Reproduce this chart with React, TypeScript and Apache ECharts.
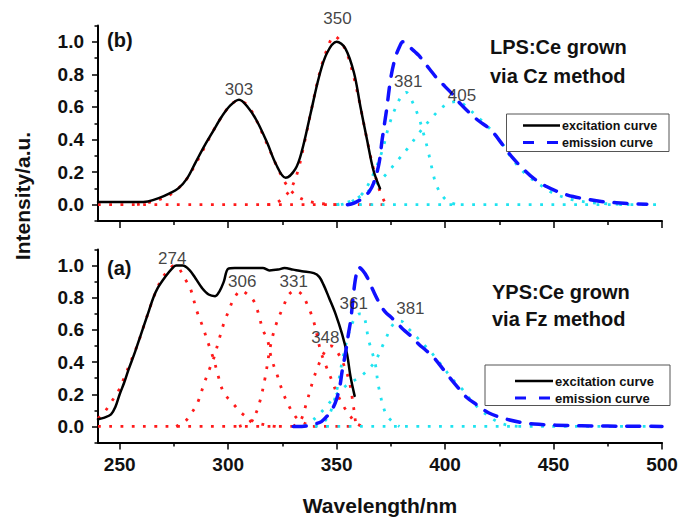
import React, { useEffect, useRef } from "react";
import * as echarts from "echarts";

// ---------- (b) LPS:Ce grown via Cz method ----------
const excitationB = [[240,0.016],[250,0.016],[258,0.016],[263,0.02],[268,0.04],[273,0.07],[277,0.1],[281,0.16],[285,0.26],[289,0.36],[293,0.45],[297,0.54],[301,0.61],[305,0.645],[309,0.6],[313,0.52],[318,0.38],[322,0.25],[326.5,0.165],[331,0.22],[334,0.33],[338,0.56],[342,0.79],[345.5,0.93],[350,1.0],[354,0.96],[358,0.81],[361,0.6],[364,0.4],[367,0.21],[370,0.1]];
const emissionB = [[355,0],[358,0.01],[362,0.04],[365,0.08],[367,0.13],[369.5,0.25],[371,0.4],[373,0.58],[375,0.78],[377,0.9],[379,0.97],[380.5,1.0],[383,0.975],[386,0.94],[388,0.915],[390,0.88],[393,0.83],[396,0.78],[400,0.725],[404,0.67],[407,0.62],[410,0.58],[415,0.52],[421,0.46],[427,0.36],[431,0.29],[436,0.22],[441,0.16],[447,0.11],[453,0.075],[459,0.05],[465,0.035],[472,0.02],[479,0.012],[486,0.006],[493,0.003]];
const fit303B = [[258,0.0],[262,0.01],[268,0.03],[273,0.06],[277,0.1],[281,0.16],[285,0.25],[289,0.35],[293,0.45],[297,0.54],[301,0.61],[304,0.635],[307,0.63],[311,0.57],[315,0.46],[319,0.34],[323,0.22],[327,0.12],[331,0.06],[335,0.03],[340,0.012],[346,0.003],[352,0]];
const fit350B = [[318,0],[322,0.01],[326,0.05],[329,0.1],[332,0.2],[335,0.37],[338,0.56],[342,0.8],[345.5,0.95],[349,1.035],[352,1.0],[355,0.92],[358,0.78],[361,0.6],[364,0.4],[367,0.22],[370,0.08],[372,0.02]];
const fitBaseRedB = [[240,0],[372,0]];
const fit381B = [[352,0],[357,0.02],[362,0.07],[367,0.19],[371,0.33],[374,0.48],[377,0.59],[380,0.67],[382,0.69],[385,0.63],[388,0.53],[390,0.44],[392,0.34],[394,0.22],[396,0.12],[399,0.05],[402,0.015],[406,0]];
const fit405B = [[350,0],[356,0.02],[362,0.06],[368,0.12],[373,0.19],[378,0.27],[383,0.35],[388,0.44],[393,0.52],[398,0.59],[402,0.625],[406,0.633],[410,0.6],[414,0.55],[419,0.49],[425,0.4],[431,0.28],[437,0.19],[444,0.12],[450,0.07],[459,0.03],[470,0.01],[485,0]];
const fitBaseCyanB = [[350,0],[500,0]];
const peakLabelsB = [[305,0.71,"303"],[350.4,1.14,"350"],[383,0.757,"381"],[407.8,0.668,"405"]];

// ---------- (a) YPS:Ce grown via Fz method ----------
const excitationA = [[240,0.045],[243,0.055],[246,0.075],[248,0.12],[250,0.2],[252,0.27],[254,0.35],[257,0.46],[259,0.54],[261,0.62],[263.5,0.72],[265.5,0.8],[267.5,0.86],[271,0.93],[274,0.98],[276,1.0],[279,1.0],[282,0.975],[285,0.92],[288,0.86],[291,0.82],[294,0.81],[296,0.84],[298,0.9],[300,0.98],[303,0.985],[307,0.985],[312,0.985],[316,0.985],[319,0.97],[323,0.975],[326,0.985],[330,0.975],[334,0.965],[339.5,0.953],[342,0.93],[344,0.88],[346.5,0.8],[349.5,0.7],[352.5,0.575],[354.8,0.45],[356.4,0.31],[358.3,0.19]];
const emissionA = [[330,0],[334,0],[337,0.005],[340,0.015],[343,0.03],[346,0.07],[348.5,0.12],[350,0.17],[351.5,0.25],[352.5,0.34],[354,0.45],[355.5,0.58],[356.5,0.66],[358,0.85],[359,0.94],[360.2,0.99],[362,0.97],[364,0.93],[367,0.84],[370,0.76],[372.5,0.71],[375,0.68],[378,0.64],[381,0.6],[384,0.565],[388,0.51],[391,0.475],[394.7,0.43],[400,0.34],[404.8,0.26],[410,0.18],[415.5,0.127],[420,0.085],[427,0.05],[435,0.025],[441,0.015],[451,0.008],[463,0.004],[475,0.002],[490,0.001],[500,0]];
const fit274A = [[240,0.05],[243,0.09],[246,0.15],[249,0.21],[252,0.3],[255,0.4],[258,0.5],[261,0.62],[264,0.74],[267,0.85],[270,0.93],[273,0.98],[275,1.0],[277,0.99],[279.5,0.93],[282.5,0.86],[285.5,0.72],[288,0.63],[291.5,0.49],[293.5,0.41],[295.5,0.31],[298,0.21],[303,0.13],[306,0.085],[312,0.03],[317,0.01],[322,0]];
const fit306A = [[276,0],[280,0.03],[283,0.08],[286,0.15],[289,0.27],[291.5,0.36],[293.5,0.43],[296,0.55],[298,0.64],[300,0.71],[302.5,0.79],[306,0.845],[309,0.82],[311.8,0.78],[314,0.7],[316,0.6],[318,0.545],[320,0.42],[322.6,0.32],[325,0.22],[327.2,0.15],[330,0.08],[333,0.035],[337,0.01],[341,0]];
const fit331A = [[305,0],[309,0.02],[312,0.06],[314.5,0.15],[317,0.3],[319.5,0.5],[322,0.63],[325.6,0.75],[328,0.82],[331,0.845],[334,0.82],[336.4,0.76],[339.5,0.65],[342.6,0.47],[345,0.38],[348,0.28],[350,0.21],[353,0.13],[356,0.07],[359,0.02],[362,0]];
const fit348A = [[330,0],[333.5,0.04],[336,0.14],[339,0.28],[341.6,0.38],[344.8,0.47],[347.5,0.5],[350,0.47],[353.7,0.37],[356,0.27],[357.5,0.15],[358.5,0.05],[359,0]];
const fitBaseRedA = [[240,0],[359,0]];
const fit361A = [[340,0],[345,0.04],[348,0.12],[350.5,0.25],[352.5,0.4],[355,0.55],[357.5,0.65],[360.5,0.7],[362.5,0.69],[364.8,0.535],[367.8,0.39],[369.3,0.25],[372.6,0.08],[375.7,0.03],[379,0]];
const fit381A = [[335,0],[340,0.05],[345,0.12],[350,0.2],[355,0.26],[361,0.31],[365,0.36],[368,0.41],[372,0.525],[376.3,0.64],[379.5,0.655],[383,0.61],[387,0.555],[390,0.51],[393,0.47],[396,0.42],[399,0.37],[402.4,0.31],[405,0.27],[408,0.23],[411.7,0.167],[416,0.106],[420,0.065],[424,0.03],[428,0.01],[434,0]];
const fitBaseCyanA = [[340,0],[500,0]];
const peakLabelsA = [[274.2,1.045,"274"],[306.5,0.902,"306"],[330.2,0.902,"331"],[344.8,0.555,"348"],[357.9,0.764,"361"],[384,0.733,"381"]];

// ---------- axes ----------
const xMajor = [250, 300, 350, 400, 450, 500];
const xMinor = [275, 325, 375, 425, 475];
const yMajor = [0, 0.2, 0.4, 0.6, 0.8, 1.0];
const yMinor = [-0.1, 0.1, 0.3, 0.5, 0.7, 0.9, 1.1];

const FONT = "Arial, 'Liberation Sans', Helvetica, sans-serif";
const RED = "#ff1a1a";
const CYAN = "#1fe3f0";
const BLUE = "#1010ff";
const BLACK = "#000000";

const dotted = [2.8, 8.5];
const dashed = [13, 11];

function lineSeries(data: number[][], color: string, type: any, width: number, g: number, z: number, cap = "round") {
  return {
    type: "line",
    xAxisIndex: g * 2,
    yAxisIndex: g * 2,
    data,
    symbol: "none",
    smooth: 0.35,
    silent: true,
    z,
    lineStyle: { color, width, type, cap, join: "round" },
  };
}

function dotSeries(data: number[][], color: string, g: number) {
  return lineSeries(data, color, dotted, 2.8, g, 2, "butt");
}

function labelSeries(data: any[], g: number) {
  return {
    type: "scatter",
    xAxisIndex: g * 2,
    yAxisIndex: g * 2,
    data,
    symbolSize: 0,
    clip: false,
    silent: true,
    z: 10,
    label: {
      show: true,
      position: "inside",
      formatter: (p: any) => p.value[2],
      color: "#111",
      fontFamily: FONT,
      fontSize: 17,
    },
  };
}

function xAxes(g: number, showLabels: boolean, name?: string) {
  const base = {
    type: "value",
    gridIndex: g,
    min: 240,
    max: 500,
    position: "bottom",
    splitLine: { show: false },
  };
  return [
    {
      ...base,
      name: name || "",
      nameLocation: "middle",
      nameGap: 63,
      nameTextStyle: { fontFamily: FONT, fontSize: 21, fontWeight: "bold", color: "#111", verticalAlign: "middle" },
      axisLine: { show: true, onZero: false, lineStyle: { color: BLACK, width: 2 } },
      axisTick: { show: true, inside: false, length: 7, customValues: xMajor, lineStyle: { color: BLACK, width: 1.5 } },
      axisLabel: {
        show: showLabels,
        customValues: xMajor,
        margin: 12,
        fontFamily: FONT,
        fontSize: 19,
        fontWeight: "bold",
        color: "#111",
      },
    },
    {
      ...base,
      axisLine: { show: false, onZero: false },
      axisTick: { show: true, inside: false, length: 4, customValues: xMinor, lineStyle: { color: BLACK, width: 1.5 } },
      axisLabel: { show: false },
    },
  ];
}

function yAxes(g: number) {
  const base = {
    type: "value",
    gridIndex: g,
    min: -0.1,
    max: 1.1,
    position: "left",
    splitLine: { show: false },
  };
  return [
    {
      ...base,
      axisLine: { show: true, onZero: false, lineStyle: { color: BLACK, width: 2 } },
      axisTick: { show: true, inside: false, length: 6, customValues: yMajor, lineStyle: { color: BLACK, width: 1.5 } },
      axisLabel: {
        show: true,
        customValues: yMajor,
        formatter: (v: number) => v.toFixed(1),
        margin: 14,
        fontFamily: FONT,
        fontSize: 19,
        fontWeight: "bold",
        color: "#111",
      },
    },
    {
      ...base,
      axisLine: { show: false, onZero: false },
      axisTick: { show: true, inside: false, length: 3.5, customValues: yMinor, lineStyle: { color: BLACK, width: 1.5 } },
      axisLabel: { show: false },
    },
  ];
}

function legendGraphic(box: { x: number; y: number; w: number; h: number }, lx1: number, lx2: number, y1: number, y2: number, fs: number) {
  return [
    { type: "rect", shape: { x: box.x, y: box.y, width: box.w, height: box.h }, style: { fill: "#fff", stroke: "#555", lineWidth: 1 }, z: 20 },
    { type: "line", shape: { x1: lx1, y1: y1, x2: lx2, y2: y1 }, style: { stroke: BLACK, lineWidth: 2.5 }, z: 21 },
    { type: "text", x: lx2 + 2, y: y1, style: { text: "excitation curve", fill: "#111", font: `bold ${fs}px ${FONT}`, align: "left", verticalAlign: "middle" }, z: 21 },
    { type: "line", shape: { x1: lx1, y1: y2, x2: lx2, y2: y2 }, style: { stroke: BLUE, lineWidth: 3, lineDash: [11, 13] }, z: 21 },
    { type: "text", x: lx2 + 2, y: y2, style: { text: "emission curve", fill: "#111", font: `bold ${fs}px ${FONT}`, align: "left", verticalAlign: "middle" }, z: 21 },
  ];
}

function annotation(text: string, x: number, y: number, size: number) {
  return { type: "text", x, y, style: { text, fill: "#111", font: `bold ${size}px ${FONT}`, align: "left", verticalAlign: "middle" }, z: 15 };
}

export default function App() {
  const ref = useRef<HTMLDivElement>(null);
  useEffect(() => {
    if (!ref.current) return;
    const chart = echarts.init(ref.current, undefined, { renderer: "svg" });
    const option: any = {
      animation: false,
      backgroundColor: "#ffffff",
      grid: [
        { left: 98, top: 25.5, width: 564, height: 195.5 },
        { left: 98, top: 249.5, width: 564, height: 196 },
      ],
      xAxis: [...xAxes(0, false), ...xAxes(1, true, "Wavelength/nm")],
      yAxis: [...yAxes(0), ...yAxes(1)],
      series: [
        dotSeries(fitBaseRedB, RED, 0),
        dotSeries(fit303B, RED, 0),
        dotSeries(fit350B, RED, 0),
        dotSeries(fitBaseCyanB, CYAN, 0),
        dotSeries(fit381B, CYAN, 0),
        dotSeries(fit405B, CYAN, 0),
        lineSeries(excitationB, BLACK, "solid", 2.5, 0, 4),
        lineSeries(emissionB, BLUE, dashed, 3.5, 0, 5),
        labelSeries(peakLabelsB, 0),

        dotSeries(fitBaseRedA, RED, 1),
        dotSeries(fit274A, RED, 1),
        dotSeries(fit306A, RED, 1),
        dotSeries(fit331A, RED, 1),
        dotSeries(fit348A, RED, 1),
        dotSeries(fitBaseCyanA, CYAN, 1),
        dotSeries(fit361A, CYAN, 1),
        dotSeries(fit381A, CYAN, 1),
        lineSeries(excitationA, BLACK, "solid", 2.5, 1, 4),
        lineSeries(emissionA, BLUE, dashed, 3.5, 1, 5),
        labelSeries(peakLabelsA, 1),
      ],
      graphic: [
        annotation("(b)", 107, 40, 20),
        annotation("LPS:Ce grown", 490, 47, 20),
        annotation("via Cz method", 490, 76, 20),
        annotation("(a)", 107, 268, 20),
        annotation("YPS:Ce grown", 492, 292, 20),
        annotation("via Fz method", 492, 319, 20),
        {
          type: "text",
          x: 22,
          y: 196,
          rotation: Math.PI / 2,
          style: { text: "Intensity/a.u.", fill: "#111", font: `bold 21px ${FONT}`, align: "center", verticalAlign: "middle" },
          z: 15,
        },
        ...legendGraphic({ x: 506.5, y: 114, w: 162.5, h: 37.5 }, 523, 560, 125.5, 142.5, 12.5),
        ...legendGraphic({ x: 485, y: 365, w: 185, h: 40.5 }, 515, 553, 381, 398, 13),
      ],
    };
    chart.setOption(option);
    return () => chart.dispose();
  }, []);
  return <div ref={ref} style={{ position: "absolute", left: 0, top: 0, width: 682, height: 517 }} />;
}
